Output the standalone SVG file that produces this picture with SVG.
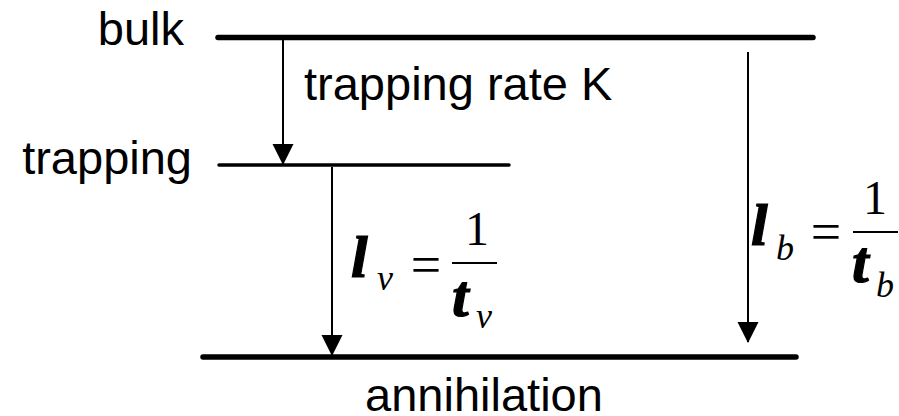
<svg xmlns="http://www.w3.org/2000/svg" width="899" height="416" viewBox="0 0 899 416">
<style>
.lbl{font-family:"Liberation Sans",Arial,sans-serif;font-size:47px;fill:#000}
.lvl{stroke:#000;stroke-linecap:round;fill:none}
.arr{stroke:#000;stroke-width:2;fill:none}
.sym{font-family:"Liberation Serif","Times New Roman",serif;font-weight:bold;font-style:italic;font-size:60px;fill:#000;stroke:#000;stroke-width:1.2}
.sub{font-family:"Liberation Serif","Times New Roman",serif;font-style:italic;font-size:36px;fill:#000}
.rm{font-family:"Liberation Serif","Times New Roman",serif;font-size:48px;fill:#000}
.eq{font-family:"Liberation Serif","Times New Roman",serif;font-size:54px;fill:#000}
.bar{stroke:#000;stroke-width:2.2}
</style>
<defs>
<marker id="ah" markerUnits="userSpaceOnUse" markerWidth="24" markerHeight="24" viewBox="0 0 24 24" refX="20" refY="12" orient="auto">
<path d="M0,1.5 L21,12 L0,22.5 Z" fill="#000"/>
</marker>
</defs>
<g id="bulk">
<line class="lvl" x1="218" y1="37.5" x2="813" y2="37.5" stroke-width="5.5"/>
<text class="lbl" x="184" y="45" text-anchor="end">bulk</text>
</g>
<g id="trapping">
<line class="lvl" x1="219" y1="165" x2="509" y2="165" stroke-width="3.5"/>
<text class="lbl" x="192" y="174" text-anchor="end">trapping</text>
</g>
<g id="annihilation">
<line class="lvl" x1="203" y1="357" x2="796" y2="357" stroke-width="5.5"/>
<text class="lbl" x="484" y="411" text-anchor="middle">annihilation</text>
</g>
<g id="connectors">
<line class="arr" x1="283" y1="40" x2="283" y2="164" marker-end="url(#ah)"/>
<line class="arr" x1="332" y1="167" x2="332" y2="355" marker-end="url(#ah)"/>
<line class="arr" x1="748" y1="52" x2="748" y2="342" marker-end="url(#ah)"/>
</g>
<g id="label-K">
<text class="lbl" x="304" y="100">trapping rate K</text>
</g>
<g id="label-v">
<text class="sym" x="351" y="277">l</text>
<text class="sub" x="377" y="290">v</text>
<text class="eq" x="426" y="283" text-anchor="middle">=</text>
<line class="bar" x1="452" y1="263" x2="497" y2="263"/>
<text class="rm" x="477" y="245" text-anchor="middle">1</text>
<text class="sym" x="452" y="316">t</text>
<text class="sub" x="476" y="328">v</text>
</g>
<g id="label-b">
<text class="sym" x="751" y="245">l</text>
<text class="sub" x="776" y="260">b</text>
<text class="eq" x="826" y="250" text-anchor="middle">=</text>
<line class="bar" x1="853" y1="232" x2="898" y2="232"/>
<text class="rm" x="875" y="214" text-anchor="middle">1</text>
<text class="sym" x="852" y="282">t</text>
<text class="sub" x="876" y="297">b</text>
</g>
</svg>
